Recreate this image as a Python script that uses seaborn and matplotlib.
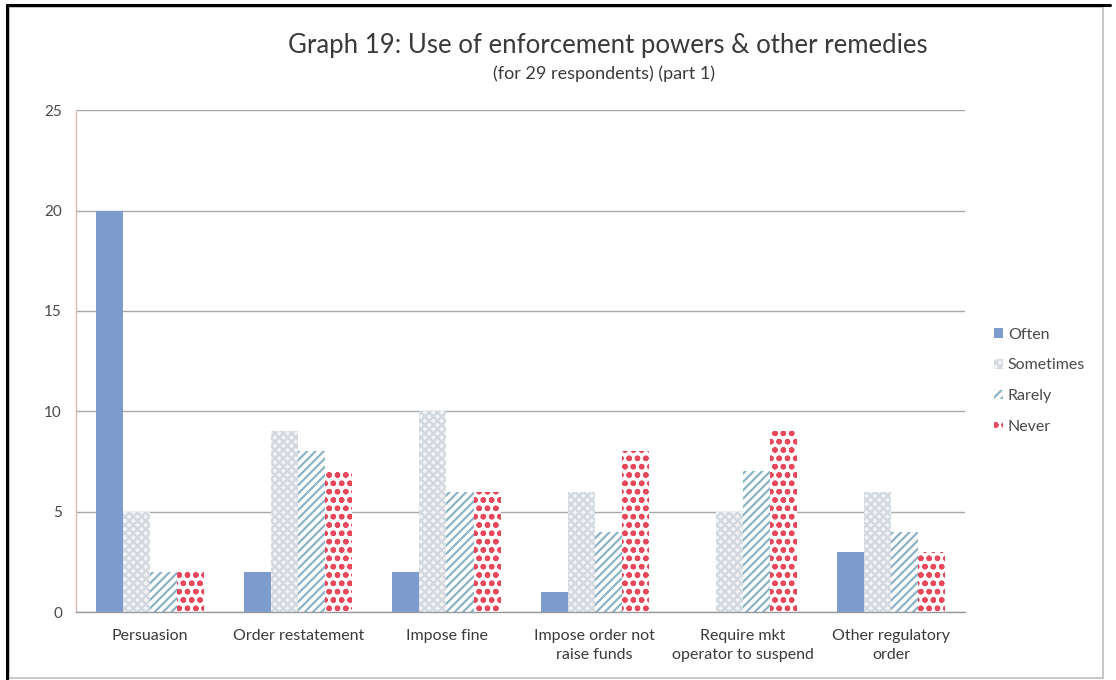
import matplotlib
matplotlib.use("Agg")
import matplotlib.pyplot as plt
import seaborn as sns
import pandas as pd
from matplotlib.patches import Rectangle, Patch
from matplotlib.lines import Line2D

# Survey answers per remedy
categories = [
    "Persuasion",
    "Order restatement",
    "Impose fine",
    "Impose order not\nraise funds",
    "Require mkt\noperator to suspend",
    "Other regulatory\norder",
]
frequencies = ["Often", "Sometimes", "Rarely", "Never"]
often = [20, 2, 2, 1, 0, 3]
sometimes = [5, 9, 10, 6, 5, 6]
rarely = [2, 8, 6, 4, 7, 4]
never = [2, 7, 6, 8, 9, 3]
y_ticks = [0, 5, 10, 15, 20, 25]

rows = []
for freq, vals in zip(frequencies, [often, sometimes, rarely, never]):
    for cat, v in zip(categories, vals):
        rows.append({"Remedy": cat, "Frequency": freq, "Count": v})
df = pd.DataFrame(rows)

sns.set_theme(style="white")
plt.rcParams["font.family"] = ["Lato", "DejaVu Sans"]
plt.rcParams["hatch.linewidth"] = 1.6

fills = {"Often": "#7d9ccd", "Sometimes": "#f1f3f5", "Rarely": "#ffffff", "Never": "#ffffff"}
hatch_cols = {"Often": "#7d9ccd", "Sometimes": "#d3d8de", "Rarely": "#8cb4c4", "Never": "#e8485c"}
hatches = {"Often": "", "Sometimes": "xxxx", "Rarely": "////", "Never": "oo"}

fig = plt.figure(figsize=(11.16, 6.8), dpi=100)
fig.patch.set_facecolor("white")
ax = fig.add_axes([0.068, 0.1, 0.797, 0.738])

sns.barplot(data=df, x="Remedy", y="Count", hue="Frequency", hue_order=frequencies,
            palette=fills, width=0.73, ax=ax, legend=False, saturation=1)

for freq, container in zip(frequencies, ax.containers):
    for bar in container:
        bar.set_facecolor(fills[freq])
        bar.set_edgecolor(hatch_cols[freq])
        bar.set_hatch(hatches[freq])
        bar.set_linewidth(0)

ax.set_ylim(0, 25)
ax.set_yticks(y_ticks)
ax.set_xlim(-0.5, len(categories) - 0.5)
ax.yaxis.grid(True, color="#a8a8a8", linewidth=1.0)
ax.set_axisbelow(True)
ax.set_xlabel("")
ax.set_ylabel("")
for side in ["top", "right"]:
    ax.spines[side].set_visible(False)
ax.spines["left"].set_color("#d9b8b8")
ax.spines["left"].set_linewidth(1.0)
ax.spines["bottom"].set_color("#9a9a9a")
ax.spines["bottom"].set_linewidth(1.0)
ax.tick_params(axis="y", labelsize=11, labelcolor="#4a4a4a", length=5,
               color="#a8a8a8", direction="out", pad=5)
ax.tick_params(axis="x", labelsize=11.5, labelcolor="#3a3a3a", length=0, pad=12)
for lbl in ax.get_xticklabels():
    lbl.set_linespacing(1.45)

fig.text(0.545, 0.933, "Graph 19: Use of enforcement powers & other remedies",
         ha="center", va="center", fontsize=18.5, color="#3a3a3a")
fig.text(0.541, 0.892, "(for 29 respondents) (part 1)",
         ha="center", va="center", fontsize=13, color="#3a3a3a")

handles = [Patch(facecolor=fills[f], edgecolor=hatch_cols[f], hatch=hatches[f], linewidth=0)
           for f in frequencies]
leg = fig.legend(handles, frequencies, loc="center left", bbox_to_anchor=(0.878, 0.44),
                 frameon=False, fontsize=11.5, handlelength=0.55, handleheight=0.55,
                 handletextpad=0.3, labelspacing=1.05)
for t in leg.get_texts():
    t.set_color("#4a4a4a")

# Chart frame
fig.add_artist(Rectangle((0.008, 0.003), 0.98, 0.987, transform=fig.transFigure,
                         fill=False, edgecolor="#bdbdbd", linewidth=1.2))
fig.add_artist(Line2D([0.006, 0.006], [0.0, 0.993], transform=fig.transFigure,
                      color="black", linewidth=2.2))
fig.add_artist(Line2D([0.006, 0.995], [0.993, 0.993], transform=fig.transFigure,
                      color="black", linewidth=2.2))

fig.savefig("out.png", dpi=100, facecolor="white")
